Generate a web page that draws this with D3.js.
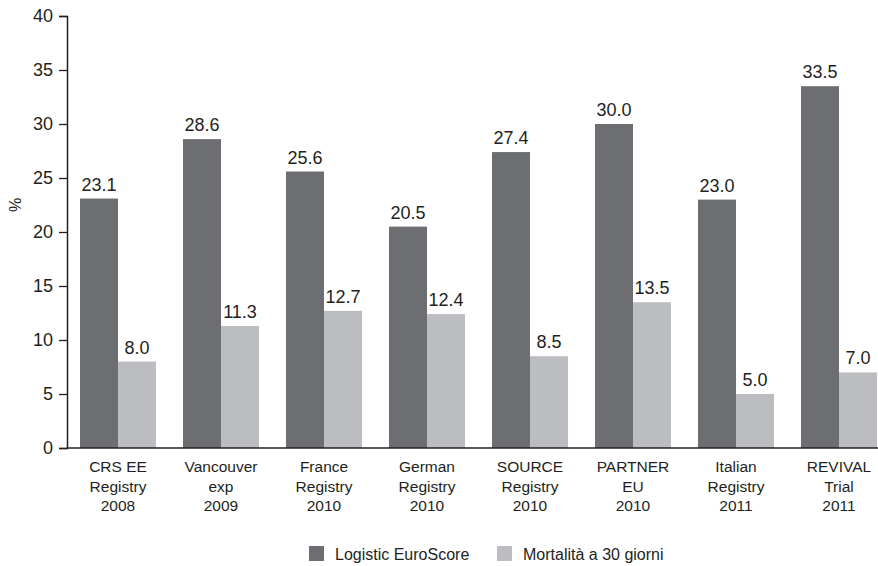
<!DOCTYPE html>
<html>
<head>
<meta charset="utf-8">
<script src="https://cdn.jsdelivr.net/npm/d3@7"></script>
<style>
  body { margin: 0; background: #fff; }
  text { font-family: "Liberation Sans", Arial, Helvetica, sans-serif; fill: #231f20; }
</style>
</head>
<body>
<div id="chart"></div>
<script>
// data
const categories = [
  ["CRS EE", "Registry", "2008"],
  ["Vancouver", "exp", "2009"],
  ["France", "Registry", "2010"],
  ["German", "Registry", "2010"],
  ["SOURCE", "Registry", "2010"],
  ["PARTNER", "EU", "2010"],
  ["Italian", "Registry", "2011"],
  ["REVIVAL", "Trial", "2011"]
];
const seriesNames = ["Logistic EuroScore", "Mortalità a 30 giorni"];
const euroScore = [23.1, 28.6, 25.6, 20.5, 27.4, 30.0, 23.0, 33.5];
const mortality = [8.0, 11.3, 12.7, 12.4, 8.5, 13.5, 5.0, 7.0];
const yTicks = [0, 5, 10, 15, 20, 25, 30, 35, 40];
const colors = ["#6d6e72", "#bcbdc1"];

const width = 878, height = 566;
const svg = d3.select("#chart").append("svg")
  .attr("width", width)
  .attr("height", height);

const keys = categories.map(c => c.join(" "));
const data = keys.map((k, i) => ({ key: k, lines: categories[i], vals: [euroScore[i], mortality[i]] }));

const x0 = d3.scaleBand()
  .domain(keys)
  .range([66.5, 890.5])
  .paddingInner(0.262)
  .paddingOuter(0.131);

const x1 = d3.scaleBand()
  .domain([0, 1])
  .range([0, x0.bandwidth()]);

const y = d3.scaleLinear()
  .domain([0, 40])
  .range([448, 16]);

// bars
const groups = svg.append("g").selectAll("g")
  .data(data)
  .enter().append("g")
  .attr("transform", d => `translate(${x0(d.key)},0)`);

groups.selectAll("rect")
  .data(d => d.vals.map((v, j) => ({ v, j })))
  .enter().append("rect")
  .attr("x", d => x1(d.j))
  .attr("y", d => y(d.v))
  .attr("width", x1.bandwidth())
  .attr("height", d => y(0) - y(d.v))
  .attr("fill", d => colors[d.j]);

groups.selectAll(".val")
  .data(d => d.vals.map((v, j) => ({ v, j })))
  .enter().append("text")
  .attr("class", "val")
  .attr("x", d => x1(d.j) + x1.bandwidth() / 2)
  .attr("y", d => y(d.v) - 8)
  .attr("text-anchor", "middle")
  .style("font-size", "18px")
  .text(d => d.v.toFixed(1));

// y axis
const yAxis = svg.append("g")
  .attr("transform", "translate(67,0)")
  .call(d3.axisLeft(y).tickValues(yTicks).tickSize(8).tickPadding(6));
yAxis.select(".domain").attr("stroke", "#231f20").attr("stroke-width", 1.5);
yAxis.selectAll(".tick line").attr("stroke", "#231f20").attr("stroke-width", 1.3);
yAxis.selectAll(".tick text")
  .style("font-size", "18px")
  .style("font-family", "'Liberation Sans', Arial, sans-serif")
  .attr("fill", "#231f20");

// x axis line
svg.append("line")
  .attr("x1", 66.5).attr("x2", 878)
  .attr("y1", y(0)).attr("y2", y(0))
  .attr("stroke", "#231f20")
  .attr("stroke-width", 1.5);

// category labels
const catLabels = svg.append("g").selectAll("text")
  .data(data)
  .enter().append("text")
  .attr("text-anchor", "middle")
  .attr("x", d => x0(d.key) + x0.bandwidth() / 2)
  .attr("y", 472)
  .style("font-size", "15.5px");
catLabels.selectAll("tspan")
  .data(d => d.lines)
  .enter().append("tspan")
  .attr("x", function () { return d3.select(this.parentNode).attr("x"); })
  .attr("dy", (d, i) => i === 0 ? 0 : 19.5)
  .text(d => d);

// y label
svg.append("text")
  .attr("transform", "translate(21,205) rotate(-90)")
  .attr("text-anchor", "middle")
  .style("font-size", "16px")
  .text("%");

// legend
const legendX = [309, 497];
const legend = svg.append("g").selectAll("g")
  .data(seriesNames)
  .enter().append("g")
  .attr("transform", (d, i) => `translate(${legendX[i]},546)`);
legend.append("rect")
  .attr("width", 15).attr("height", 15)
  .attr("fill", (d, i) => colors[i]);
legend.append("text")
  .attr("x", 26).attr("y", 13.5)
  .style("font-size", "16px")
  .text(d => d);
</script>
</body>
</html>
